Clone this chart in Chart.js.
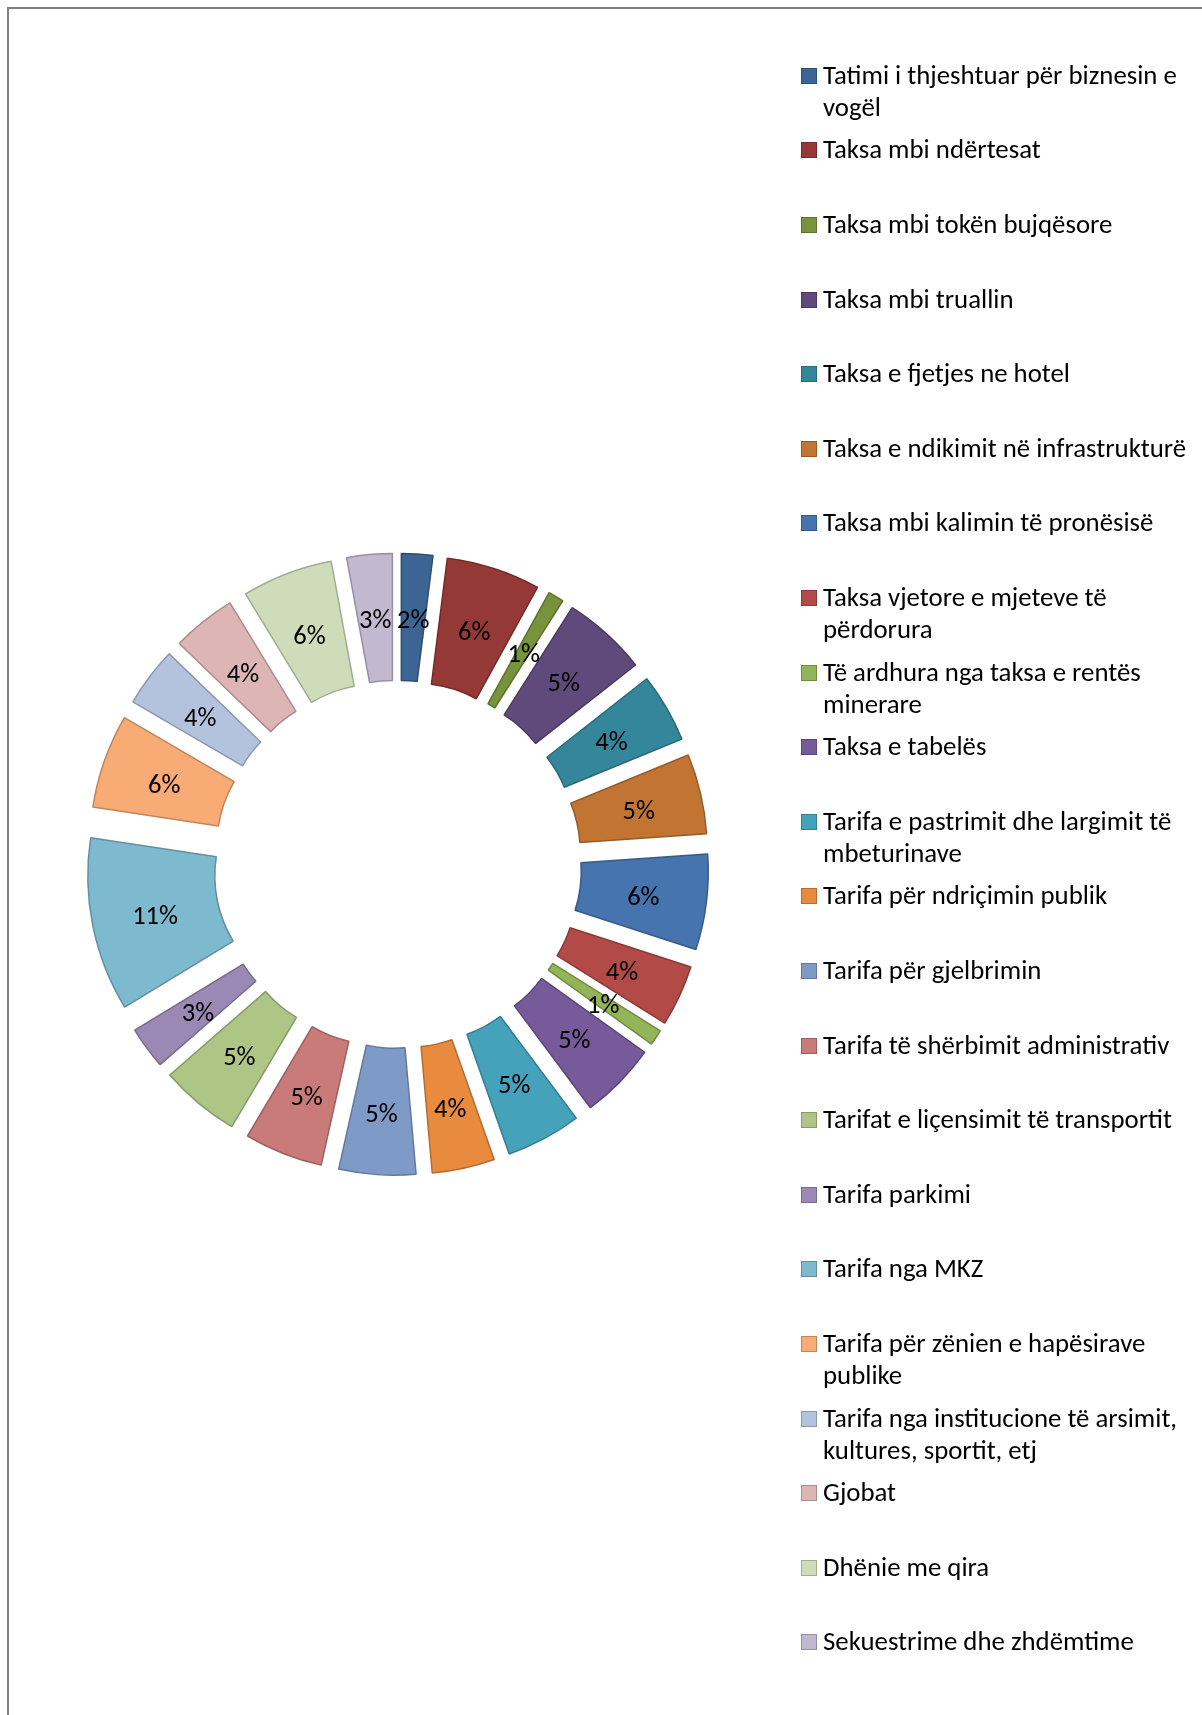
<!DOCTYPE html>
<html>
<head>
<meta charset="utf-8">
<script src="https://cdn.jsdelivr.net/npm/chart.js@4.4.1/dist/chart.umd.min.js"></script>
<style>
html, body { margin: 0; padding: 0; width: 1202px; height: 1715px; overflow: hidden; background: #fff; }
#frame { position: absolute; left: 7px; top: 7px; width: 1300px; height: 1800px;
  border-left: 2px solid #808080; border-top: 2px solid #808080; }
#chart { position: absolute; left: 0; top: 0; }
#legend { position: absolute; left: 801px; top: 0; font-family: Carlito, Calibri, Lato, sans-serif; }
.item { position: absolute; left: 0; }
.box { position: absolute; left: 0; top: 8px; width: 14px; height: 14px; border: 1px solid; }
.txt { position: absolute; left: 22px; top: -1px; font-size: 26.8px; line-height: 32.6px; white-space: pre; color: #000; }
</style>
</head>
<body>
<div id="frame"></div>
<canvas id="chart" width="1202" height="1715"></canvas>
<div id="legend"></div>
<script>
// kategorite (me kalim rreshti si ne legjende)
var categories = [
    'Tatimi i thjeshtuar për biznesin e\nvogël',
    'Taksa mbi ndërtesat',
    'Taksa mbi tokën bujqësore',
    'Taksa mbi truallin',
    'Taksa e fjetjes ne hotel',
    'Taksa e ndikimit në infrastrukturë',
    'Taksa mbi kalimin të pronësisë',
    'Taksa vjetore e mjeteve të\npërdorura',
    'Të ardhura nga taksa e rentës\nminerare',
    'Taksa e tabelës',
    'Tarifa e pastrimit dhe largimit të\nmbeturinave',
    'Tarifa për ndriçimin publik',
    'Tarifa për gjelbrimin',
    'Tarifa të shërbimit administrativ',
    'Tarifat e liçensimit të transportit',
    'Tarifa parkimi',
    'Tarifa nga MKZ',
    'Tarifa për zënien e hapësirave\npublike',
    'Tarifa nga institucione të arsimit,\nkultures, sportit, etj',
    'Gjobat',
    'Dhënie me qira',
    'Sekuestrime dhe zhdëmtime'
];

// pjesa ne % (lexuar nga kendet e fetave)
var shares = [2.0, 6.0, 1.0, 5.4, 4.4, 5.1, 6.1, 3.9, 1.0, 4.9, 4.8, 4.0,
              4.9, 5.0, 5.1, 2.7, 11.1, 6.0, 3.8, 4.1, 5.8, 2.9];

var colors = [
    '#3C6494', '#953937', '#77933C', '#604A7B', '#34869B', '#C27533',
    '#4674AE', '#B24A47', '#93B457', '#765A99', '#45A2BA', '#E98B3E',
    '#7E9BC8', '#C97B7A', '#ADC585', '#9A89B4', '#7DB9CF', '#F8AB75',
    '#B4C3DD', '#DDB5B5', '#CEDCBA', '#C2B9D1'
];

var EXPLODE = 58;
var FONT = '26.5px Carlito, Calibri, Lato, sans-serif';

function darker(hex, f) {
    var n = parseInt(hex.slice(1), 16);
    var r = Math.round(((n >> 16) & 255) * f);
    var g = Math.round(((n >> 8) & 255) * f);
    var b = Math.round((n & 255) * f);
    return 'rgb(' + r + ',' + g + ',' + b + ')';
}

var borders = colors.map(function (c) { return darker(c, 0.78); });

// feta te shkeputura + etiketat
var explodePlugin = {
    id: 'explode',
    beforeDatasetDraw: function (chart, args) {
        var ctx = chart.ctx;
        args.meta.data.forEach(function (arc) {
            var mid = (arc.startAngle + arc.endAngle) / 2;
            ctx.save();
            ctx.translate(Math.cos(mid) * EXPLODE, Math.sin(mid) * EXPLODE);
            arc.draw(ctx);
            ctx.restore();
        });
        return false;
    },
    afterDatasetsDraw: function (chart) {
        var ctx = chart.ctx;
        var meta = chart.getDatasetMeta(0);
        var data = chart.data.datasets[0].data;
        var total = data.reduce(function (a, b) { return a + b; }, 0);
        ctx.save();
        ctx.font = FONT;
        ctx.fillStyle = '#000';
        ctx.textAlign = 'center';
        ctx.textBaseline = 'middle';
        meta.data.forEach(function (arc, i) {
            var mid = (arc.startAngle + arc.endAngle) / 2;
            var r = (arc.innerRadius + arc.outerRadius) / 2 + EXPLODE;
            var pct = Math.round(data[i] / total * 100);
            ctx.fillText(pct + '%', arc.x + Math.cos(mid) * r, arc.y + Math.sin(mid) * r + 4);
        });
        ctx.restore();
    }
};

var ctx = document.getElementById('chart').getContext('2d');
var myChart = new Chart(ctx, {
    type: 'doughnut',
    data: {
        labels: categories,
        datasets: [{
            data: shares,
            backgroundColor: colors,
            borderColor: borders,
            borderWidth: 1.5
        }]
    },
    options: {
        responsive: false,
        animation: false,
        radius: 253,
        cutout: (126 / 253 * 100) + '%',
        layout: { padding: { left: 0, right: 406.6, top: 13.6, bottom: 0 } },
        plugins: {
            legend: { display: false },
            tooltip: { enabled: false }
        }
    },
    plugins: [explodePlugin]
});

// legjenda ne html
var legend = document.getElementById('legend');
myChart.options.plugins.legend.labels.generateLabels(myChart).forEach(function (item, i) {
    var div = document.createElement('div');
    div.className = 'item';
    div.style.top = (59.7 + i * 74.6) + 'px';
    var box = document.createElement('span');
    box.className = 'box';
    box.style.background = item.fillStyle;
    box.style.borderColor = item.strokeStyle;
    var txt = document.createElement('span');
    txt.className = 'txt';
    txt.textContent = categories[i];
    div.appendChild(box);
    div.appendChild(txt);
    legend.appendChild(div);
});
</script>
</body>
</html>
